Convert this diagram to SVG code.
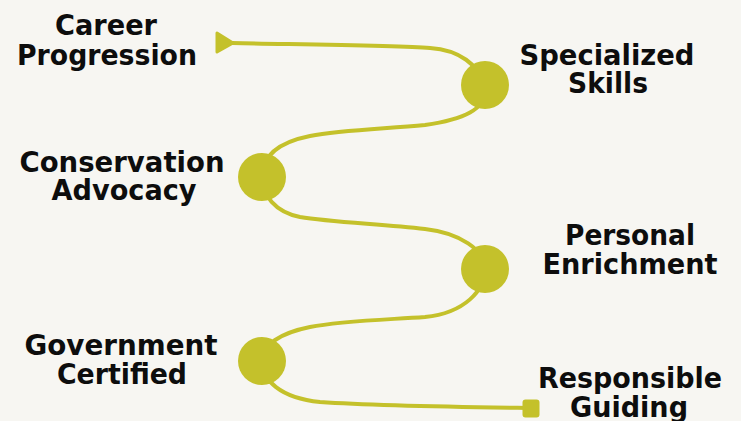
<svg xmlns="http://www.w3.org/2000/svg" width="741" height="421" viewBox="0 0 741 421">
<style>
.bg{fill:#F7F6F2}
.line{fill:none;stroke:#C4C12B;stroke-width:4;stroke-linecap:round}
.dot{fill:#C4C12B}
.end{fill:#C4C12B;stroke:#C4C12B;stroke-width:3;stroke-linejoin:round}
.lbl{font-family:"DejaVu Sans","Liberation Sans",sans-serif;font-weight:bold;font-size:28px;fill:#0d0d0d;text-anchor:middle}
</style>
<rect class="bg" x="0" y="0" width="741" height="421"/>
<g id="connectors">
<path class="line" d="M 232 43 C 330 45, 400 46, 430 48 C 460 50, 478 65, 485 85 C 490 110, 460 120, 425 125 C 380 129, 340 130, 310 136 C 280 142, 262 155, 262 177 C 262 195, 275 212, 300 217 C 330 222, 380 224, 425 229 C 460 233, 485 250, 485 269 C 485 290, 465 313, 425 317 C 380 320, 340 321, 310 327 C 280 333, 262 345, 262 361 C 262 380, 280 398, 320 402 C 380 406, 460 407, 528 408"/>
<polygon class="end" points="217,33 217,52 233,43"/>
<rect class="end" x="524" y="401" width="14" height="15" rx="1.5"/>
</g>
<g id="node-specialized">
<circle class="dot" cx="485" cy="85" r="24"/>
<text class="lbl" x="607" y="65" textLength="175" lengthAdjust="spacingAndGlyphs">Specialized</text>
<text class="lbl" x="608" y="93" textLength="80" lengthAdjust="spacingAndGlyphs">Skills</text>
</g>
<g id="node-conservation">
<circle class="dot" cx="262" cy="177" r="24"/>
<text class="lbl" x="122" y="172" textLength="205" lengthAdjust="spacingAndGlyphs">Conservation</text>
<text class="lbl" x="124" y="200" textLength="145" lengthAdjust="spacingAndGlyphs">Advocacy</text>
</g>
<g id="node-personal">
<circle class="dot" cx="485" cy="269" r="24"/>
<text class="lbl" x="630" y="245" textLength="130" lengthAdjust="spacingAndGlyphs">Personal</text>
<text class="lbl" x="630" y="274" textLength="175" lengthAdjust="spacingAndGlyphs">Enrichment</text>
</g>
<g id="node-government">
<circle class="dot" cx="262" cy="361" r="24"/>
<text class="lbl" x="121" y="355" textLength="193" lengthAdjust="spacingAndGlyphs">Government</text>
<text class="lbl" x="122" y="384" textLength="130" lengthAdjust="spacingAndGlyphs">Certified</text>
</g>
<g id="node-career">
<text class="lbl" x="106" y="35" textLength="102" lengthAdjust="spacingAndGlyphs">Career</text>
<text class="lbl" x="107" y="65" textLength="180" lengthAdjust="spacingAndGlyphs">Progression</text>
</g>
<g id="node-responsible">
<text class="lbl" x="630" y="388" textLength="184" lengthAdjust="spacingAndGlyphs">Responsible</text>
<text class="lbl" x="629" y="417" textLength="118" lengthAdjust="spacingAndGlyphs">Guiding</text>
</g>
</svg>
